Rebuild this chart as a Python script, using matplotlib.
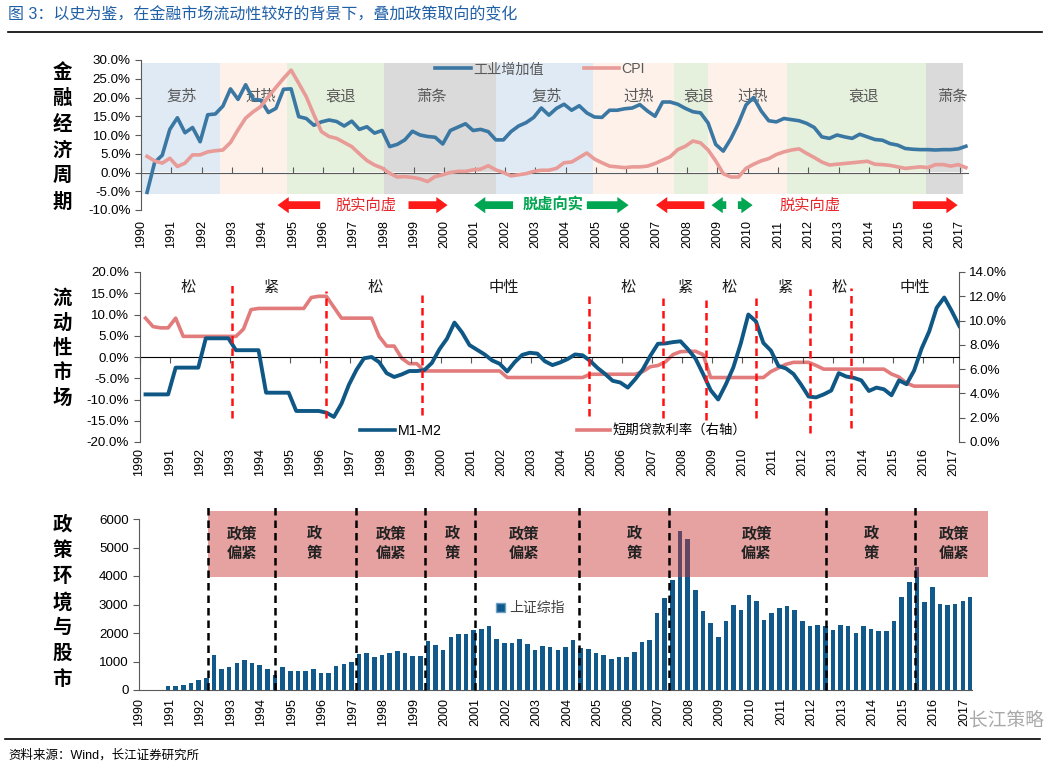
import numpy as np
import pandas as pd
import matplotlib
matplotlib.use("Agg")
import matplotlib.pyplot as plt
from matplotlib.patches import FancyArrowPatch, Rectangle, Patch
from matplotlib.lines import Line2D
from matplotlib.ticker import FuncFormatter

plt.rcParams['font.family'] = ['Liberation Sans', 'Noto Sans CJK SC', 'DejaVu Sans']
plt.rcParams['axes.unicode_minus'] = False

# ---------------- data (quarterly, 1990Q1 - 2017Q1) ----------------
quarters = pd.period_range('1990Q1', '2017Q1', freq='Q')
years = list(range(1990, 2018))

ip = [-5.3, 2.7, 4.6, 11.5, 14.6, 10.6, 12.0, 8.2, 15.4, 15.6,
      17.7, 22.3, 19.5, 23.4, 19.5, 19.3, 16.0, 17.1, 22.2, 22.3,
      14.9, 14.4, 12.6, 13.5, 14.0, 13.6, 12.4, 13.7, 11.5, 12.2,
      10.5, 11.2, 6.9, 7.5, 8.7, 11.0, 10.0, 9.6, 9.4, 7.6,
      11.2, 12.1, 13.0, 11.2, 11.5, 10.9, 8.7, 8.7, 10.9, 12.4,
      13.3, 14.7, 17.2, 15.3, 17.1, 18.2, 16.6, 17.8, 15.9, 14.8,
      14.7, 16.6, 16.6, 17.0, 17.2, 18.1, 16.4, 15.0, 18.8, 18.8,
      18.2, 17.1, 16.2, 15.9, 13.2, 7.5, 5.7, 9.0, 13.1, 18.0,
      20.0, 16.4, 13.8, 13.5, 14.4, 14.1, 13.8, 13.1, 12.0, 9.5,
      9.1, 10.0, 9.5, 9.1, 10.2, 9.5, 8.8, 8.6, 7.7, 7.3,
      6.4, 6.2, 6.1, 6.1, 6.0, 6.1, 6.1, 6.3, 7.0]

cpi = [4.3, 3.1, 2.5, 3.8, 1.6, 2.5, 4.7, 4.7, 5.5, 5.8,
       6.0, 8.0, 11.4, 14.5, 16.2, 17.6, 20.2, 22.7, 25.1, 27.3,
       23.8, 20.2, 15.4, 10.9, 9.6, 9.1, 8.0, 6.9, 5.0, 3.2,
       2.0, 1.2, -0.2, -1.2, -1.1, -1.3, -1.7, -2.4, -1.1, -0.6,
       0.0, 0.3, 0.3, 0.7, 0.9, 1.8, 0.7, 0.0, -0.9, -0.6,
       -0.3, 0.3, 0.6, 0.6, 1.1, 2.6, 2.8, 4.0, 5.2, 3.6,
       2.6, 1.7, 1.5, 1.3, 1.5, 1.5, 1.7, 2.4, 3.3, 4.2,
       6.1, 7.0, 8.4, 7.9, 6.0, 3.1, -0.3, -1.2, -1.2, 1.1,
       2.2, 3.1, 3.7, 4.8, 5.5, 6.0, 6.3, 5.1, 4.0, 2.8,
       2.0, 2.2, 2.4, 2.6, 2.8, 3.0, 2.2, 2.1, 1.9, 1.5,
       1.1, 1.3, 1.5, 1.3, 2.1, 2.1, 1.7, 2.1, 1.3]

m1_m2 = [-8.8, -8.8, -8.8, -8.8, -2.5, -2.5, -2.5, -2.5, 4.4, 4.4,
         4.4, 4.4, 1.6, 1.6, 1.6, 1.6, -8.4, -8.4, -8.4, -8.4,
         -12.7, -12.7, -12.7, -12.7, -13.1, -14.1, -11.0, -6.5, -3.0, -0.3,
         0.0, -1.2, -3.8, -4.7, -4.1, -3.3, -3.3, -3.1, -1.4, 1.8,
         4.3, 8.1, 5.8, 2.8, 1.7, 0.6, -0.8, -1.6, -3.4, -1.2,
         0.5, 1.0, 0.8, -1.0, -1.9, -1.3, -0.5, 0.6, 0.4, -0.9,
         -2.6, -4.0, -5.6, -6.0, -7.2, -5.2, -2.9, 0.3, 3.1, 3.2,
         3.5, 3.7, 1.8, -0.4, -4.0, -7.8, -10.0, -6.5, -2.5, 3.2,
         10.0, 8.4, 3.3, 1.5, -2.1, -2.7, -4.0, -6.5, -9.3, -9.5,
         -8.8, -7.9, -3.8, -4.6, -4.9, -5.5, -8.0, -7.2, -7.6, -9.0,
         -5.5, -6.4, -3.2, 2.0, 6.0, 11.6, 14.0, 10.8, 7.3]

loan_rate = [10.2, 9.5, 9.4, 9.4, 10.2, 8.7, 8.7, 8.7, 8.7, 8.7,
             8.7, 8.7, 8.7, 9.3, 10.9, 11.0, 11.0, 11.0, 11.0, 11.0,
             11.0, 11.0, 11.9, 12.0, 12.0, 11.1, 10.2, 10.2, 10.2, 10.2,
             10.2, 8.7, 7.9, 7.9, 6.9, 6.45, 6.45, 5.85, 5.85, 5.85,
             5.85, 5.85, 5.85, 5.85, 5.85, 5.85, 5.85, 5.85, 5.31, 5.31,
             5.31, 5.31, 5.31, 5.31, 5.31, 5.31, 5.31, 5.31, 5.31, 5.58,
             5.58, 5.58, 5.58, 5.58, 5.58, 5.58, 5.8, 6.2, 6.3, 6.6,
             7.2, 7.44, 7.47, 7.47, 7.2, 5.31, 5.31, 5.31, 5.31, 5.31,
             5.31, 5.31, 5.31, 5.8, 6.1, 6.4, 6.56, 6.56, 6.56, 6.3,
             6.0, 6.0, 6.0, 6.0, 6.0, 6.0, 6.0, 6.0, 6.0, 5.6,
             5.35, 4.85, 4.6, 4.6, 4.6, 4.6, 4.6, 4.6, 4.6]

# Shanghai composite, 1990Q4 - 2017Q1
sse = [140, 140, 190, 230, 350, 420, 1230, 750, 820, 960,
       1055, 940, 870, 750, 530, 820, 670, 670, 680, 750,
       610, 610, 855, 925, 975, 1265, 1310, 1150, 1220, 1290,
       1370, 1290, 1185, 1185, 1735, 1595, 1405, 1850, 1960, 1960,
       2110, 2145, 2260, 1805, 1665, 1640, 1780, 1620, 1405, 1560,
       1525, 1405, 1525, 1760, 1465, 1430, 1290, 1220, 1100, 1170,
       1170, 1335, 1700, 1760, 2695, 3225, 3870, 5570, 5300, 3515,
       2780, 2345, 1850, 2405, 2990, 2815, 3340, 3140, 2440, 2695,
       2860, 2955, 2815, 2405, 2230, 2285, 2230, 2110, 2285, 2250,
       1995, 2230, 2145, 2075, 2075, 2405, 3250, 3775, 4315, 3105,
       3600, 3035, 2965, 3025, 3140, 3260]

# economic cycle phases
phase_names = ['复苏', '过热', '衰退', '萧条', '复苏', '过热', '衰退', '过热', '衰退', '萧条']
phase_edges = [1990, 1992.61, 1994.83, 1998.02, 2001.7, 2004.91, 2007.58, 2008.69, 2011.3, 2015.88, 2017.11]
phase_label_x = [1991.34, 1993.95, 1996.57, 1999.58, 2003.39, 2006.42, 2008.39, 2010.17, 2013.84, 2016.74]

# liquidity regimes
liq_breaks = [1993.06, 1996.18, 1999.37, 2004.92, 2007.36, 2008.8, 2010.47, 2012.24, 2013.61]
liq_top = [16.9, 15.5, 15.4, 15.1, 14.9, 14.4, 14.7, 15.9, 16.2]
liq_bottom = [-14.3, -14.4, -13.6, -13.9, -14.4, -14.9, -14.4, -17.8, -16.8]
liq_names = ['松', '紧', '松', '中性', '松', '紧', '松', '紧', '松', '中性']
liq_label_x = [1991.6, 1994.37, 1997.83, 2002.1, 2006.2, 2008.13, 2009.56, 2011.44, 2013.2, 2015.72]

# policy regimes
policy_breaks = [1992.27, 1994.44, 1997.09, 1999.36, 2000.98, 2004.4, 2007.33, 2012.47, 2015.4]
policy_names = ['政策\n偏紧', '政\n策', '政策\n偏紧', '政\n策', '政策\n偏紧', '政\n策', '政策\n偏紧', '政\n策', '政策\n偏紧']
policy_label_x = [1993.38, 1995.73, 1998.23, 2000.25, 2002.6, 2006.2, 2010.2, 2013.95, 2016.65]

x = np.asarray(quarters.year + (quarters.quarter - 0.2) / 4, dtype=float)

# ---------------- style ----------------
W, H = 1047, 769
ip_color = '#3a77a2'
cpi_color = '#e89b97'
m_color = '#0f5785'
rate_color = '#e27c7c'
bar_color = '#12598b'
axis_color = '#595959'
phase_colors = {'复苏': '#dfeaf5', '过热': '#fdf1e9', '衰退': '#e5f0dd', '萧条': '#dadada'}


def rect(l, t, r, b):
    return [l / W, 1 - b / H, (r - l) / W, (b - t) / H]


def pct(v, pos):
    return '{:.1f}%'.format(v)


def base_axes(ax, xmax, label_pad):
    ax.set_xlim(1990, xmax)
    ax.set_xticks(years)
    ax.set_xticklabels([str(y) for y in years], rotation=90, fontsize=9)
    ax.tick_params(axis='x', length=0, pad=label_pad)
    ax.tick_params(axis='y', direction='out', length=4, color=axis_color, labelsize=9.6)
    for s in ['top', 'right']:
        ax.spines[s].set_visible(False)
    ax.spines['left'].set_color(axis_color)


def zero_axis(ax, loc):
    z = ax.secondary_xaxis(loc)
    z.set_xticks(years)
    z.set_xticklabels([])
    z.tick_params(direction='in', length=4, color=axis_color)
    z.spines['bottom'].set_color(axis_color)


def line_legend(ax, color, label, bx, by, fs):
    return ax.legend([Line2D([], [], color=color, lw=2.6)], [label], loc='center left',
                     bbox_to_anchor=(bx, by), frameon=False, fontsize=fs, handlelength=2.5,
                     handletextpad=0.15, borderaxespad=0, borderpad=0)


fig = plt.figure(figsize=(W / 100, H / 100), dpi=100)

# ---------------- top panel: economic cycle ----------------
ax1 = fig.add_axes(rect(141, 60, 968, 210))
base_axes(ax1, 2017.27, 7.5)
ax1.set_ylim(-10, 30)
ax1.set_yticks(np.arange(-10, 31, 5))
ax1.yaxis.set_major_formatter(FuncFormatter(pct))
ax1.spines['bottom'].set_visible(False)

for i, name in enumerate(phase_names):
    ax1.axvspan(phase_edges[i], phase_edges[i + 1], ymin=(-5.8 + 10) / 40, ymax=(29.3 + 10) / 40,
                color=phase_colors[name], lw=0, zorder=0)
    ax1.text(phase_label_x[i], 20.2, name, ha='center', va='center', fontsize=11,
             color='#5a5a5a', zorder=1)

ax1.plot(x, ip, color=ip_color, lw=2.6, zorder=3, solid_joinstyle='round')
ax1.plot(x, cpi, color=cpi_color, lw=2.6, zorder=3, solid_joinstyle='round')
zero_axis(ax1, 0.25)

leg_ip = line_legend(ax1, ip_color, '工业增加值', 0.356, 0.938, 10.2)
ax1.add_artist(leg_ip)
leg_cpi = line_legend(ax1, cpi_color, 'CPI', 0.5354, 0.938, 10.2)
for lg in (leg_ip, leg_cpi):
    for t in lg.get_texts():
        t.set_color('#595959')

RED, GREEN = '#ff1a1a', '#00a651'
arrow_specs = [(1996.0, 1994.41, RED), (1998.73, 2000.2, RED), (2002.36, 2000.89, GREEN),
               (2004.61, 2006.17, GREEN), (2008.67, 2006.89, RED), (2009.39, 2008.72, GREEN),
               (2009.59, 2010.26, GREEN), (2015.36, 2017.02, RED)]
for tail, head, c in arrow_specs:
    ax1.add_patch(FancyArrowPatch((tail, -8.7), (head, -8.7),
                                  arrowstyle='simple,head_length=0.9,head_width=1.3,tail_width=0.62',
                                  mutation_scale=9, color=c, lw=0, zorder=4, clip_on=False))
ax1.text(1997.41, -8.7, '脱实向虚', color='#e8262a', fontsize=11, ha='center', va='center')
ax1.text(2003.58, -8.7, '脱虚向实', color=GREEN, fontsize=11, fontweight='bold', ha='center', va='center')
ax1.text(2012.05, -8.7, '脱实向虚', color='#e8262a', fontsize=11, ha='center', va='center')

# ---------------- middle panel: liquidity ----------------
ax2 = fig.add_axes(rect(139.5, 272, 959, 442))
base_axes(ax2, 2017.19, 4.5)
ax2.set_ylim(-20, 20)
ax2.set_yticks(np.arange(-20, 21, 5))
ax2.yaxis.set_major_formatter(FuncFormatter(pct))
ax2.spines['bottom'].set_visible(False)

ax2r = ax2.twinx()
ax2r.set_xlim(1990, 2017.19)
ax2r.set_ylim(0, 14)
ax2r.set_yticks(np.arange(0, 15, 2))
ax2r.yaxis.set_major_formatter(FuncFormatter(pct))
ax2r.tick_params(axis='y', direction='out', length=4, color=axis_color, labelsize=9.6)
for s in ['top', 'left', 'bottom']:
    ax2r.spines[s].set_visible(False)
ax2r.spines['right'].set_color(axis_color)
zero_axis(ax2, 0.5)

ax2r.plot(x, loan_rate, color=rate_color, lw=2.6, zorder=2)
ax2.plot(x, m1_m2, color=m_color, lw=2.8, zorder=3)
ax2.set_zorder(ax2r.get_zorder() + 1)
ax2.patch.set_visible(False)

for bx, top, bot in zip(liq_breaks, liq_top, liq_bottom):
    ax2.plot([bx, bx], [bot, top], color='#ff1010', lw=1.8, ls=(0, (3, 2)), zorder=4)
for lx, name in zip(liq_label_x, liq_names):
    ax2.text(lx, 16.3, name, ha='center', va='center', fontsize=11, color='#1a1a1a')

line_legend(ax2, m_color, 'M1-M2', 0.269, 0.066, 10.2)
line_legend(ax2r, rate_color, '短期贷款利率（右轴）', 0.5335, 0.066, 9.6)

# ---------------- bottom panel: policy & stock market ----------------
ax3 = fig.add_axes(rect(139, 519, 972, 690))
base_axes(ax3, 2017.25, 5.5)
ax3.set_ylim(0, 6000)
ax3.set_yticks(np.arange(0, 6001, 1000))
ax3.spines['bottom'].set_color(axis_color)

ax3.bar(x[3:], sse, width=0.15, color=bar_color, zorder=2)
ax3.add_patch(Rectangle((policy_breaks[0], 3980), 2017.76 - policy_breaks[0], 2300,
                        facecolor='#c8302f', alpha=0.45, lw=0, zorder=3, clip_on=False))
ax3.vlines(policy_breaks, 0, 6560, colors='black', linestyles=(0, (3, 2)), lw=1.8,
           zorder=4, clip_on=False)
for lx, name in zip(policy_label_x, policy_names):
    ax3.text(lx, 5120, name, ha='center', va='center', fontsize=11, fontweight='bold',
             color='#222222', linespacing=1.4, zorder=5)

leg3 = ax3.legend([Patch(facecolor=bar_color, edgecolor='#6fa0c8')], ['上证综指'], loc='center left',
                  bbox_to_anchor=(0.428, 0.478), frameon=False, fontsize=10,
                  handlelength=0.7, handleheight=0.7, handletextpad=0.3, borderaxespad=0, borderpad=0)
for t in leg3.get_texts():
    t.set_color('#404040')

# ---------------- page furniture ----------------
fig.text(8 / W, 1 - 15 / H, '图 3：以史为鉴，在金融市场流动性较好的背景下，叠加政策取向的变化',
         color='#1f5fa6', fontsize=11.5, va='center', ha='left')
fig.add_artist(Line2D([8 / W, 1042 / W], [1 - 32 / H] * 2, color='black', lw=1.2))
fig.add_artist(Line2D([5 / W, 1040 / W], [1 - 739 / H] * 2, color='black', lw=1.2))
fig.text(8 / W, 1 - 755 / H, '资料来源：Wind，长江证券研究所', fontsize=9, va='center', ha='left')
# watermark, nudged right of the last tick label
fig.text(1044 / W, 1 - 721 / H, '长江策略', fontsize=13.5, color='#9a9a9a', alpha=0.85,
         ha='right', va='center')

side_labels = [('金融经济周期', 73, 25.8), ('流动性市场', 298, 25.0), ('政策环境与股市', 525, 25.8)]
for txt, y0, step in side_labels:
    for k, ch in enumerate(txt):
        fig.text(62 / W, 1 - (y0 + k * step) / H, ch, fontsize=14, fontweight='bold',
                 ha='center', va='center')

fig.savefig('out.png', dpi=100)
